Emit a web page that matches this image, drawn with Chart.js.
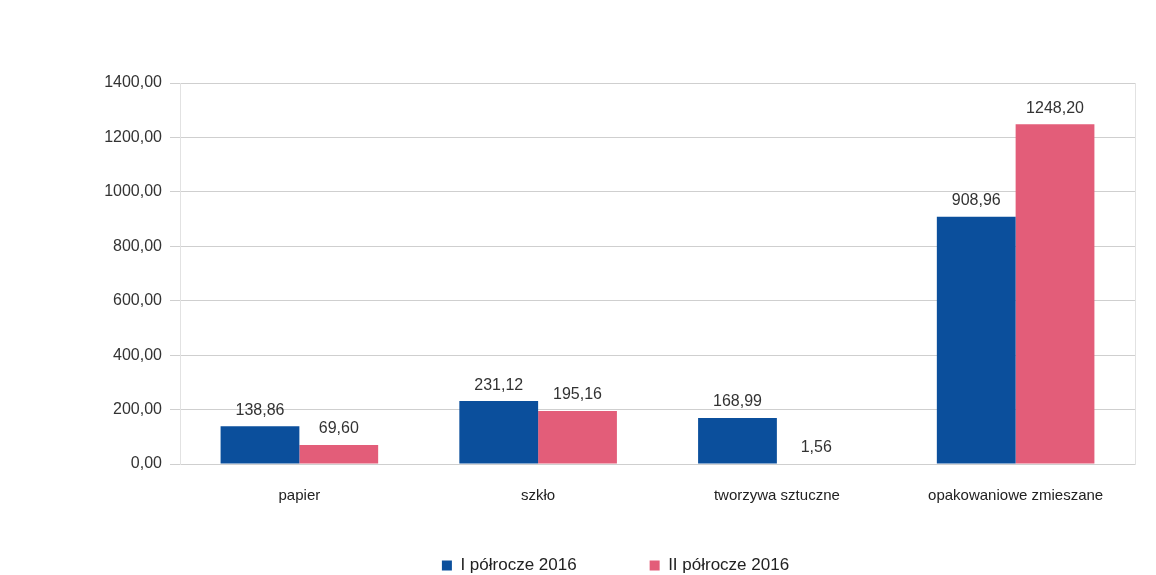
<!DOCTYPE html>
<html>
<head>
    <meta charset="utf-8">
    <title>Odpady 2016</title>
    <script src="https://cdn.jsdelivr.net/npm/chart.js"></script>
    <style>
        html, body { margin: 0; padding: 0; background: #ffffff; }
        #wrap { width: 1156px; height: 575px; }
    </style>
</head>
<body>
    <div id="wrap">
        <canvas id="myChart" width="1156" height="575"></canvas>
    </div>
    <script>
        // Chart data
        const categories = ['papier', 'szkło', 'tworzywa sztuczne', 'opakowaniowe zmieszane'];
        const firstHalf = [138.86, 231.12, 168.99, 908.96];
        const secondHalf = [69.60, 195.16, 1.56, 1248.20];
        const seriesNames = ['I półrocze 2016', 'II półrocze 2016'];

        const fmt = v => Number(v).toFixed(2).replace('.', ',');
        const FONT = "'Liberation Sans', Arial, sans-serif";

        // values above bars
        const valueLabels = {
            id: 'valueLabels',
            afterDatasetsDraw(chart) {
                const ctx = chart.ctx;
                ctx.save();
                ctx.font = '16px ' + FONT;
                ctx.fillStyle = '#333333';
                ctx.textAlign = 'center';
                ctx.textBaseline = 'bottom';
                chart.data.datasets.forEach((ds, i) => {
                    chart.getDatasetMeta(i).data.forEach((bar, j) => {
                        ctx.fillText(fmt(ds.data[j]), bar.x, bar.y - 8);
                    });
                });
                ctx.restore();
            }
        };

        // legend uses a wide item gap, pull it up a bit so it sits closer to the axis
        const legendNudge = {
            id: 'legendNudge',
            afterLayout(chart) {
                chart.legend.top -= 20;
                chart.legend.bottom -= 20;
            }
        };

        const ctx = document.getElementById('myChart').getContext('2d');
        const myChart = new Chart(ctx, {
            type: 'bar',
            data: {
                labels: categories,
                datasets: [
                    {
                        label: seriesNames[0],
                        data: firstHalf,
                        backgroundColor: '#0b4f9c',
                        categoryPercentage: 0.66,
                        barPercentage: 1.0,
                    },
                    {
                        label: seriesNames[1],
                        data: secondHalf,
                        backgroundColor: '#e35d79',
                        categoryPercentage: 0.66,
                        barPercentage: 1.0,
                    },
                ],
            },
            options: {
                responsive: false,
                animation: false,
                layout: { padding: { top: 83, right: 21, left: 96, bottom: -29 } },
                plugins: {
                    legend: {
                        position: 'bottom',
                        labels: {
                            boxWidth: 10,
                            boxHeight: 10,
                            padding: 73,
                            color: '#222222',
                            font: { family: FONT, size: 17 },
                        },
                    },
                    tooltip: { enabled: false },
                },
                scales: {
                    x: {
                        grid: { display: false },
                        border: { display: false },
                        ticks: {
                            color: '#222222',
                            padding: 15,
                            font: { family: FONT, size: 15 },
                        },
                        afterFit: s => { s.height = 40; },
                    },
                    y: {
                        min: 0,
                        max: 1400,
                        ticks: {
                            stepSize: 200,
                            color: '#333333',
                            padding: 8,
                            font: { family: FONT, size: 16 },
                            callback: v => fmt(v),
                        },
                        grid: { color: '#cfcfcf', tickLength: 10 },
                        border: { color: '#e2e2e2' },
                        afterFit: s => { s.width = 84; },
                    },
                    y2: {
                        position: 'right',
                        grid: { display: false, drawTicks: false },
                        ticks: { display: false },
                        border: { color: '#e2e2e2' },
                        afterFit: s => { s.width = 0; },
                    },
                },
            },
            plugins: [valueLabels, legendNudge],
        });
    </script>
</body>
</html>
